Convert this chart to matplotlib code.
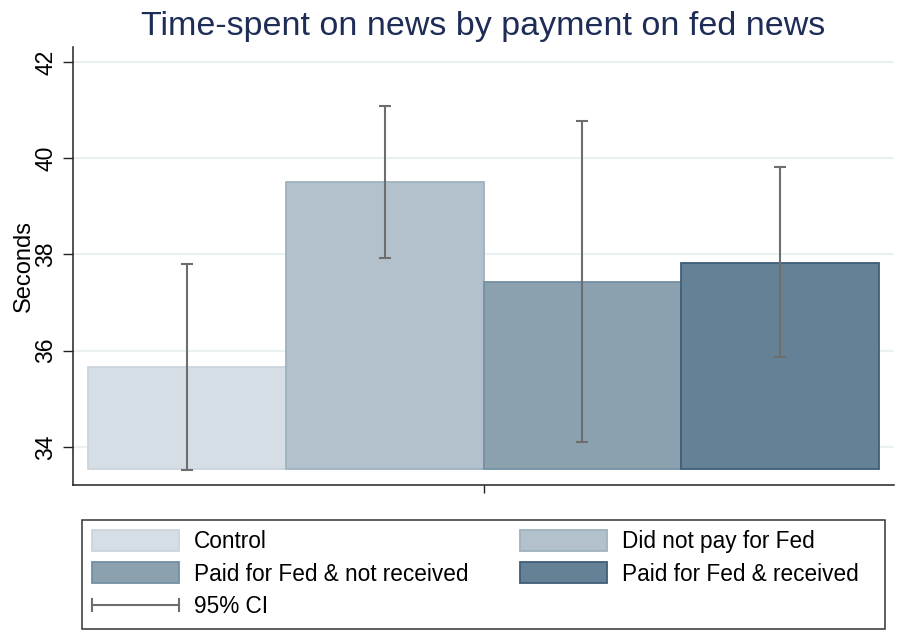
import matplotlib
matplotlib.use("Agg")
import matplotlib.pyplot as plt
from matplotlib.patches import Patch, Rectangle
from matplotlib.lines import Line2D
from matplotlib.legend_handler import HandlerBase

# Group means and 95% confidence intervals (seconds)
groups = ["Control", "Did not pay for Fed",
          "Paid for Fed & not received", "Paid for Fed & received"]
means = [35.66, 39.50, 37.43, 37.83]
ci_low = [33.52, 37.92, 34.10, 35.87]
ci_high = [37.81, 41.09, 40.78, 39.82]
base = 33.54
yticks = [34, 36, 38, 40, 42]

face_colors = ["#d6dee5", "#b3c1cc", "#8ba1af", "#648195"]
edge_colors = ["#cbd5dd", "#9fb2c0", "#7390a3", "#3f5e78"]

plt.rcParams["font.family"] = ["Liberation Sans", "DejaVu Sans"]

W, H = 899, 635
ax_left, ax_right, ax_top, ax_bottom = 73, 894, 47, 485
fig = plt.figure(figsize=(W / 100, H / 100), dpi=100)
ax = fig.add_axes([ax_left / W, 1 - ax_bottom / H,
                   (ax_right - ax_left) / W, (ax_bottom - ax_top) / H])

x = list(range(len(groups)))
heights = [m - base for m in means]
ax.bar(x, heights, width=1.0, bottom=base, color=face_colors,
       edgecolor=edge_colors, linewidth=1.3, zorder=2)

err_lo = [m - lo for m, lo in zip(means, ci_low)]
err_hi = [hi - m for m, hi in zip(means, ci_high)]
ax.errorbar(x, means, yerr=[err_lo, err_hi], fmt="none", ecolor="#6e6e6e",
            elinewidth=1.5, capsize=4.3, capthick=1.5, zorder=3)

ax.set_xlim(-0.577, 3.577)
ax.set_ylim(33.21, 42.31)
ax.set_yticks(yticks)
ax.set_yticklabels([str(t) for t in yticks], rotation=90, va="center",
                   fontsize=16.5)
ax.set_xticks([1.5])
ax.set_xticklabels([""])
ax.tick_params(axis="y", length=7.2, width=1.0, pad=4.0, colors="#222222",
               labelcolor="black")
ax.tick_params(axis="x", length=6, width=1.0, colors="#222222")
ax.yaxis.grid(True, color="#eaf1f3", linewidth=1.5, zorder=0)
ax.set_axisbelow(True)
for side in ("top", "right"):
    ax.spines[side].set_visible(False)
for side in ("left", "bottom"):
    ax.spines[side].set_linewidth(1.1)
    ax.spines[side].set_color("#222222")
ax.set_ylabel("Seconds", fontsize=17, labelpad=0)

fig.text((ax_left + ax_right) / 2 / W, 1 - 35 / H,
         "Time-spent on news by payment on fed news",
         ha="center", va="baseline", fontsize=24.5, color="#1e2d55")


class CIHandler(HandlerBase):
    def create_artists(self, legend, orig_handle, xdescent, ydescent,
                       width, height, fontsize, trans):
        y = height / 2 - ydescent
        c = "#6e6e6e"
        line = Line2D([-xdescent, width - xdescent], [y, y], color=c,
                      lw=1.5, transform=trans)
        cap_h = height * 0.28
        left = Line2D([-xdescent, -xdescent], [y - cap_h, y + cap_h],
                      color=c, lw=1.5, transform=trans)
        right = Line2D([width - xdescent, width - xdescent],
                       [y - cap_h, y + cap_h], color=c, lw=1.5,
                       transform=trans)
        return [line, left, right]


patches = [Patch(facecolor=fc, edgecolor=ec, linewidth=1.3, label=g)
           for g, fc, ec in zip(groups, face_colors, edge_colors)]
ci_handle = Line2D([], [], color="#6e6e6e", label="95% CI")

common = dict(frameon=False, loc="upper left", borderpad=0,
              borderaxespad=0, fontsize=16.3, handlelength=3.85,
              handleheight=1.06, handletextpad=0.66, labelspacing=0.4)

fig.legend(handles=[patches[0], patches[2], ci_handle],
           labels=[groups[0], groups[2], "95% CI"],
           handler_map={Line2D: CIHandler()},
           bbox_to_anchor=(91.7 / W, 1 - 530 / H), **common)
fig.legend(handles=[patches[1], patches[3]],
           labels=[groups[1], groups[3]],
           bbox_to_anchor=(520 / W, 1 - 530 / H), **common)

fig.patches.append(Rectangle((81.7 / W, 1 - 629 / H), (885 - 81.7) / W,
                             (629 - 520) / H, transform=fig.transFigure,
                             fill=False, edgecolor="#333333", linewidth=1.1))

fig.savefig("out.png", dpi=100, facecolor="white")
